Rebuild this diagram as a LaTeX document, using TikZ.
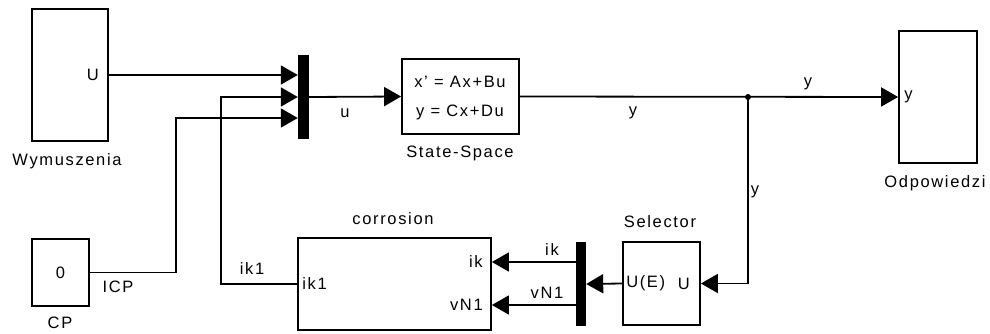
\documentclass[tikz,border=0pt]{standalone}
\usepackage{fontspec}
\setmainfont{Liberation Sans}[LetterSpace=10]
\usepackage{tikz}
\usetikzlibrary{arrows.meta, calc, positioning}

\begin{document}
\begin{tikzpicture}[
  x=1pt, y=-1pt,
  font=\fontsize{16.5}{19}\selectfont,
  >={Triangle[length=17pt,width=19pt]},
  blk/.style={draw, line width=1.8pt, inner sep=0pt},
  bar/.style={fill=black, draw=none, inner sep=0pt,
              minimum width=11pt, minimum height=84pt},
  lbl/.style={inner sep=0pt},
  sig/.style={->, line width=1.8pt},
]
\useasboundingbox (0,0) rectangle (990,334);

% ============ BLOCKS ============

% Sources (left column)
\node[blk, minimum width=76pt, minimum height=132pt] (wym) at (70,75) {};
\node[lbl] (wymlbl) at (67,161) {Wymuszenia};
\node[lbl, anchor=east] (wymU) at ($(wym.east)+(-10,0)$) {U};

\node[blk, minimum width=57pt, minimum height=67pt] (cp) at (60.5,272.5) {0};
\node[lbl] (cplbl) at (60,323) {CP};

% Mux and state-space model
\node[bar] (mux) at (303.5,97) {};

\node[blk, minimum width=117pt, minimum height=75pt] (ss) at (460.5,96.5) {};
\node[lbl] (sseq1) at (460,82) {x' = Ax+Bu};
\node[lbl] (sseq2) at (460,112) {y = Cx+Du};
\node[lbl] (sslbl) at (460,153) {State-Space};

% Output sink
\node[blk, minimum width=78pt, minimum height=132pt] (odp) at (938,97) {};
\node[lbl, anchor=west] (odpy) at ($(odp.west)+(6,0)$) {y};
\node[lbl] (odplbl) at (935,183) {Odpowiedzi};

% Feedback: selector, demux, corrosion
\node[blk, minimum width=77pt, minimum height=83pt] (sel) at (661.5,283.5) {};
\node[lbl, anchor=west] (selUE) at ($(sel.west)+(4,0)$) {U(E)};
\node[lbl, anchor=east] (selU) at ($(sel.east)+(-11,0)$) {U};
\node[lbl] (sellbl) at (660,222) {Selector};

\node[bar, minimum width=10pt] (demux) at (581,284) {};

\node[blk, minimum width=193pt, minimum height=92pt] (corr) at (394.5,284) {};
\node[lbl] (corrlbl) at (393,219) {corrosion};
\node[lbl, anchor=west] (corrik1) at ($(corr.west)+(5,0)$) {ik1};
\node[lbl, anchor=east] (corrik) at ($(corr.east)+(-9,-22)$) {ik};
\node[lbl, anchor=east] (corrvn) at ($(corr.east)+(-9,21)$) {vN1};

% Port points
\coordinate (mux3) at ($(mux.west)+(0,21)$);
\coordinate (dm1)  at ($(demux.west)+(0,-22)$);
\coordinate (dm2)  at ($(demux.west)+(0,21)$);
\coordinate (br)   at (748,97);

% ============ SIGNALS ============

\draw[sig] (wym.east) -- (wym.east -| mux.west);
\draw[sig] (corr.west) -- ++(-76,0) |- (mux.west);
\draw[sig] (cp.east) -- ++(86,0) |- (mux3);

\draw[sig] (mux.east) -- (ss.west);
\draw[sig] (ss.east) -- (odp.west);
\fill (br) circle (3pt);

\draw[sig] (br) |- (sel.east);
\draw[sig] (sel.west) -- (demux.east);
\draw[sig] (dm1) -- (dm1 -| corr.east);
\draw[sig] (dm2) -- (dm2 -| corr.east);

% Signal names
\node[lbl] (lu)   at (345,113) {u};
\node[lbl] (ly1)  at (633,113) {y};
\node[lbl] (ly2)  at (808,84)  {y};
\node[lbl] (ly3)  at (755,192) {y};
\node[lbl] (lik)  at (552,250) {ik};
\node[lbl] (lvn)  at (547,293) {vN1};
\node[lbl] (lik1) at (252,269) {ik1};
\node[lbl] (licp) at (118,287) {ICP};

\end{tikzpicture}
\end{document}
